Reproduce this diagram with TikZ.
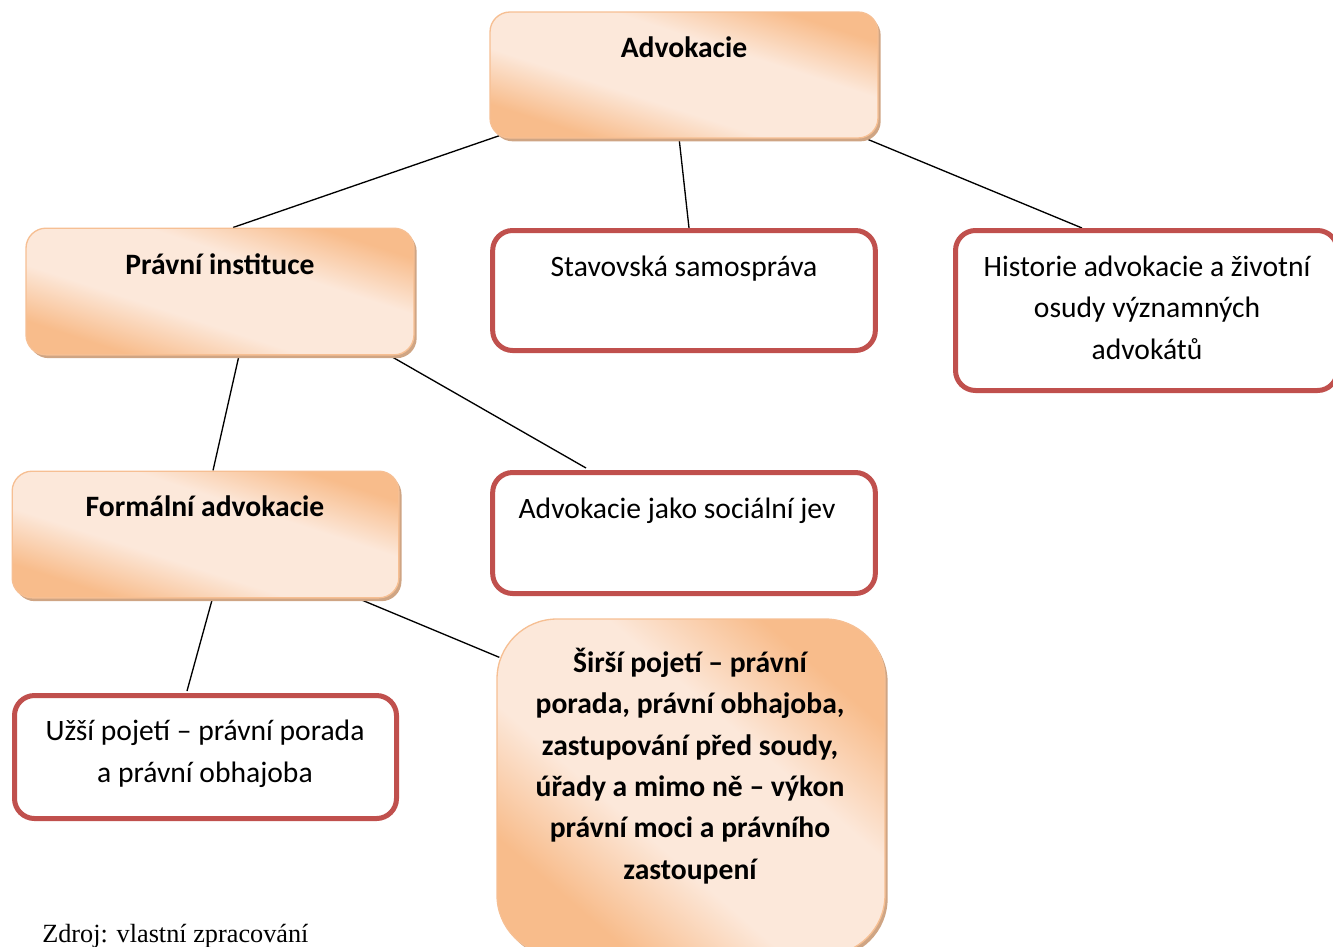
\documentclass[tikz,border=0pt]{standalone}
\usepackage{fontspec}
\setmainfont{Carlito}
\newfontfamily\tnr{Liberation Serif}
\usetikzlibrary{shadows,calc,backgrounds}
\definecolor{orD}{HTML}{F8BC8B}
\definecolor{orL}{HTML}{FCE8DA}
\definecolor{orB}{HTML}{F6BF93}
\definecolor{shd}{HTML}{CFA584}
\definecolor{redB}{HTML}{C0504D}
\pgfdeclarehorizontalshading{orband}{100bp}{color(0bp)=(orD); color(27bp)=(orD); color(41bp)=(orL); color(60bp)=(orL); color(74bp)=(orD); color(100bp)=(orD)}
\tikzset{
  obox/.style={draw=orB, line width=1pt, rounded corners=15pt, shading=orband, shading angle=72,
    drop shadow={shadow xshift=2pt, shadow yshift=-2.5pt, fill=shd, opacity=1}, inner sep=0pt},
  rbox/.style={draw=redB, line width=3.75pt, rounded corners=15pt, fill=white, inner sep=0pt},
  txt/.style={inner sep=0pt, anchor=base, align=center, font=\fontsize{22.2}{31}\selectfont},
  btxt/.style={txt, font=\fontsize{22.2}{31}\selectfont\bfseries},
  conn/.style={draw=black, line width=1pt}
}
\begin{document}
\begin{tikzpicture}[x=0.75pt,y=-0.75pt]
\useasboundingbox (0,0) rectangle (1333,946);
% boxes
\node[obox, minimum width=291pt, minimum height=94.5pt] (adv) at (684,75) {};
\node[obox, minimum width=291pt, minimum height=95pt] (pi) at (220,291.5) {};
\node[rbox, minimum width=287pt, minimum height=90pt] (stav) at (684,290.5) {};
\node[rbox, minimum width=286.5pt, minimum height=120pt] (hist) at (1146.5,310.5) {};
\node[obox, minimum width=290pt, minimum height=95pt] (fa) at (205.5,534.5) {};
\node[rbox, minimum width=287pt, minimum height=90.75pt] (soc) at (684,533) {};
\node[rbox, minimum width=286.5pt, minimum height=92.25pt] (uzsi) at (205.5,757) {};
\node[obox, shading angle=49, rounded corners=45pt, minimum width=291pt, minimum height=252pt] (sirsi) at (691,787) {};
% texts
\node[btxt] (advT) at (684,57) {Advokacie};
\node[btxt] (piT) at (220,274) {Právní instituce};
\node[txt] (stavT) at (684,276) {Stavovská samospráva};
\node[txt] (histT) at (1147,359) {Historie advokacie a životní\\osudy významných\\advokátů};
\node[btxt] (faT) at (205,516) {Formální advokacie};
\node[txt] (socT) at (677,518) {Advokacie jako sociální jev};
\node[txt] (uzsiT) at (205,782) {Užší pojetí – právní porada\\a právní obhajoba};
\node[btxt] (sirsiT) at (690,879) {Širší pojetí – právní\\porada, právní obhajoba,\\zastupování před soudy,\\úřady a mimo ně – výkon\\právní moci a právního\\zastoupení};
\node[inner sep=0pt, anchor=base west, font=\tnr\fontsize{19.7}{22}\selectfont] (src) at (42,942) {Zdroj: vlastní zpracování};
% connectors
\begin{scope}[on background layer]
\draw[conn] ($(adv.south west)+(10,-3)$) -- ($(pi.north)+(13,0)$);
\draw[conn] ($(adv.south)+(-5,-1)$) -- ($(stav.north)+(5,0)$);
\draw[conn] ($(adv.south east)+(-15,-1)$) -- ($(hist.north)+(-64.5,0)$);
\draw[conn] ($(pi.south)+(19,0)$) -- ($(fa.north)+(7.5,0)$);
\draw[conn] ($(pi.south east)+(-25,0)$) -- ($(soc.north)+(-98,-2)$);
\draw[conn] ($(fa.south)+(7.5,-2)$) -- ($(uzsi.north)+(-18.5,-2)$);
\draw[conn] ($(fa.south east)+(-39,1)$) -- ($(sirsi.north west)+(3,39)$);
\end{scope}
\end{tikzpicture}
\end{document}
